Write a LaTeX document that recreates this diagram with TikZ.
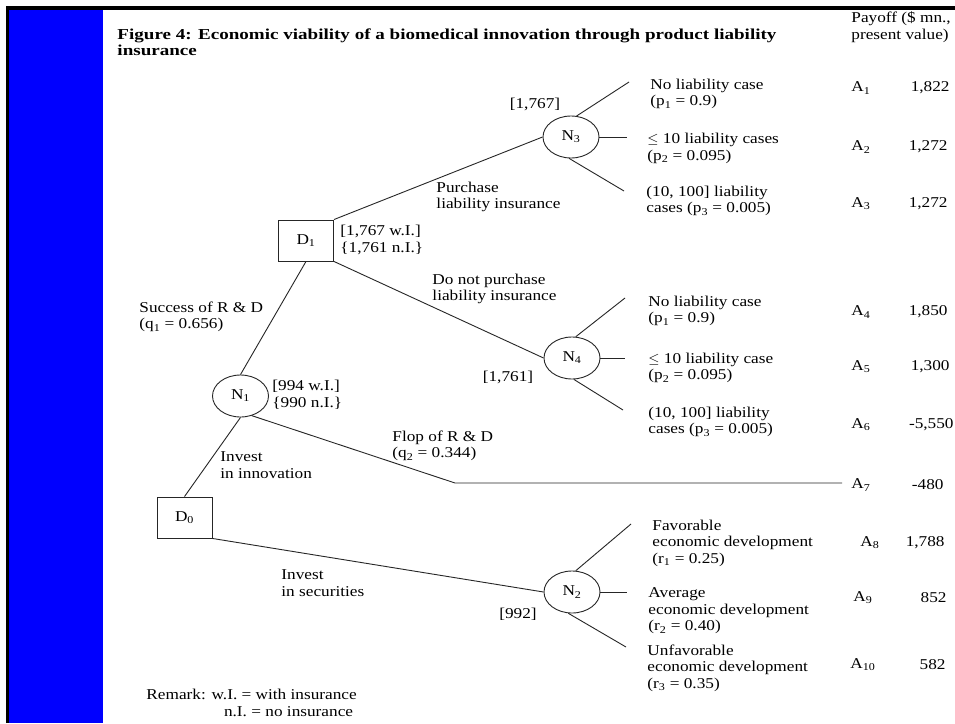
\documentclass[tikz,border=0pt]{standalone}
\usepackage{fontspec}
\setmainfont{Liberation Serif}[FakeStretch=1.15]
\usetikzlibrary{shapes.geometric}

\newcommand{\treefont}{\fontsize{15}{16.5}\selectfont}
\newcommand{\titlefont}{\fontsize{15.2}{16.5}\selectfont\bfseries}
\newcommand{\sbs}[1]{\textsubscript{#1}}

\begin{document}
\begin{tikzpicture}[
    x=1pt, y=-1pt,
    line width=0.9pt,
    color=black!85,
    every node/.style={text=black, font=\treefont},
    chance/.style={ellipse, draw, minimum width=56pt, minimum height=42pt, inner sep=0pt},
    decision/.style={rectangle, draw, minimum width=55pt, minimum height=41pt, inner sep=0pt},
    lbl/.style={anchor=west, align=left, inner sep=0pt},
    pay/.style={anchor=east, inner sep=0pt}
]

    % Page, frame and blue bar
    \useasboundingbox (0,0) rectangle (955,723);
    \fill[white] (0,0) rectangle (955,723);
    \fill[blue] (9,10) rectangle (103,723);
    \draw[black, line width=3.5pt] (7.5,723) -- (7.5,8) -- (955,8);

    % Decision and chance nodes
    \node[decision] (D0) at (184.5,517.5) {D\sbs{0}};
    \node[decision] (D1) at (306,240.5) {D\sbs{1}};
    \node[chance] (N1) at (240.5,396) {N\sbs{1}};
    \node[chance] (N2) at (572,592) {N\sbs{2}};
    \node[chance] (N3) at (571,137) {N\sbs{3}};
    \node[chance] (N4) at (572,358) {N\sbs{4}};

    % Free ends of the branches
    \coordinate (e1) at (629,82);
    \coordinate (e2) at (627,137);
    \coordinate (e3) at (624,191);
    \coordinate (e4) at (625,298);
    \coordinate (e5) at (625,358);
    \coordinate (e6) at (623,410);
    \coordinate (kink) at (455,483);
    \coordinate (e7) at (842,483);
    \coordinate (e8) at (631,524);
    \coordinate (e9) at (627,592);
    \coordinate (e10) at (626,647);

    % Branches
    \draw (D0.north) -- (N1.south);
    \draw (D0.south east) -- (N2.west);
    \draw (N1.north) -- (D1.south);
    \draw (N1.-60) -- (kink) -- (e7);
    \draw (D1.north east) -- (N3.west);
    \draw (D1.south east) -- (N4.west);
    \draw (N3.75) -- (e1);
    \draw (N3.east) -- (e2);
    \draw (N3.-95) -- (e3);
    \draw (N4.80) -- (e4);
    \draw (N4.east) -- (e5);
    \draw (N4.-85) -- (e6);
    \draw (N2.80) -- (e8);
    \draw (N2.east) -- (e9);
    \draw (N2.-100) -- (e10);

    % Title and column head
    \node[lbl, font=\titlefont, xscale=1.09] (title) at (117,42)
        {Figure 4: Economic viability of a biomedical innovation through product liability\\insurance};
    \node[lbl] (head) at (851,27) {Payoff (\$ mn.,\\present value)};

    % Branch labels
    \node[lbl] (buy) at (436,197) {Purchase\\liability insurance};
    \node[lbl] (nobuy) at (432,289) {Do not purchase\\liability insurance};
    \node[lbl] (succ) at (139,317) {Success of R \& D\\(q\sbs{1} = 0.656)};
    \node[lbl] (flop) at (392,446) {Flop of R \& D\\(q\sbs{2} = 0.344)};
    \node[lbl] (inno) at (220,465) {Invest\\in innovation};
    \node[lbl] (secu) at (281,583) {Invest\\in securities};

    % Node values
    \node[lbl] (vD1) at (340,240) {[1,767 w.I.]\\\{1,761 n.I.\}};
    \node[lbl] (vN1) at (272,395) {[994 w.I.]\\\{990 n.I.\}};
    \node[inner sep=0pt] (vN3) at (535,104) {[1,767]};
    \node[inner sep=0pt] (vN4) at (508,377) {[1,761]};
    \node[inner sep=0pt] (vN2) at (518,614) {[992]};

    % Outcomes
    \node[lbl] (o1) at (650,94) {No liability case\\(p\sbs{1}  = 0.9)};
    \node[lbl] (o2) at (647,148.5) {$\leq$ 10 liability cases\\(p\sbs{2} = 0.095)};
    \node[lbl] (o3) at (646,201) {(10, 100] liability\\cases (p\sbs{3} = 0.005)};
    \node[lbl] (o4) at (648,311) {No liability case\\(p\sbs{1} = 0.9)};
    \node[lbl] (o5) at (648,368) {$\leq$ 10 liability case\\(p\sbs{2} = 0.095)};
    \node[lbl] (o6) at (648,422) {(10, 100] liability\\cases (p\sbs{3} = 0.005)};
    \node[lbl] (o8) at (652,543) {Favorable\\economic development\\(r\sbs{1} = 0.25)};
    \node[lbl] (o9) at (648,611) {Average\\economic development\\(r\sbs{2} = 0.40)};
    \node[lbl] (o10) at (647,668) {Unfavorable\\economic development\\(r\sbs{3} = 0.35)};

    % Payoffs
    \node[lbl] (A1) at (851,88) {A\sbs{1}};
    \node[lbl] (A2) at (851,147) {A\sbs{2}};
    \node[lbl] (A3) at (851,204) {A\sbs{3}};
    \node[lbl] (A4) at (851,312) {A\sbs{4}};
    \node[lbl] (A5) at (851,367) {A\sbs{5}};
    \node[lbl] (A6) at (851,425) {A\sbs{6}};
    \node[lbl] (A7) at (851,485) {A\sbs{7}};
    \node[lbl] (A8) at (860,543) {A\sbs{8}};
    \node[lbl] (A9) at (853,598) {A\sbs{9}};
    \node[lbl] (A10) at (850,665) {A\sbs{10}};
    \node[pay] (P1) at (950,88) {1,822};
    \node[pay] (P2) at (948,147) {1,272};
    \node[pay] (P3) at (948,204) {1,272};
    \node[pay] (P4) at (948,312) {1,850};
    \node[pay] (P5) at (950,367) {1,300};
    \node[pay] (P6) at (954,425) {-5,550};
    \node[pay] (P7) at (944,485) {-480};
    \node[pay] (P8) at (945,543) {1,788};
    \node[pay] (P9) at (947,598) {852};
    \node[pay] (P10) at (946,665) {582};

    % Remark
    \node[lbl] (remark) at (146,703) {Remark: w.I. = with insurance\\\phantom{Remark: w}n.I. = no insurance};

\end{tikzpicture}
\end{document}
